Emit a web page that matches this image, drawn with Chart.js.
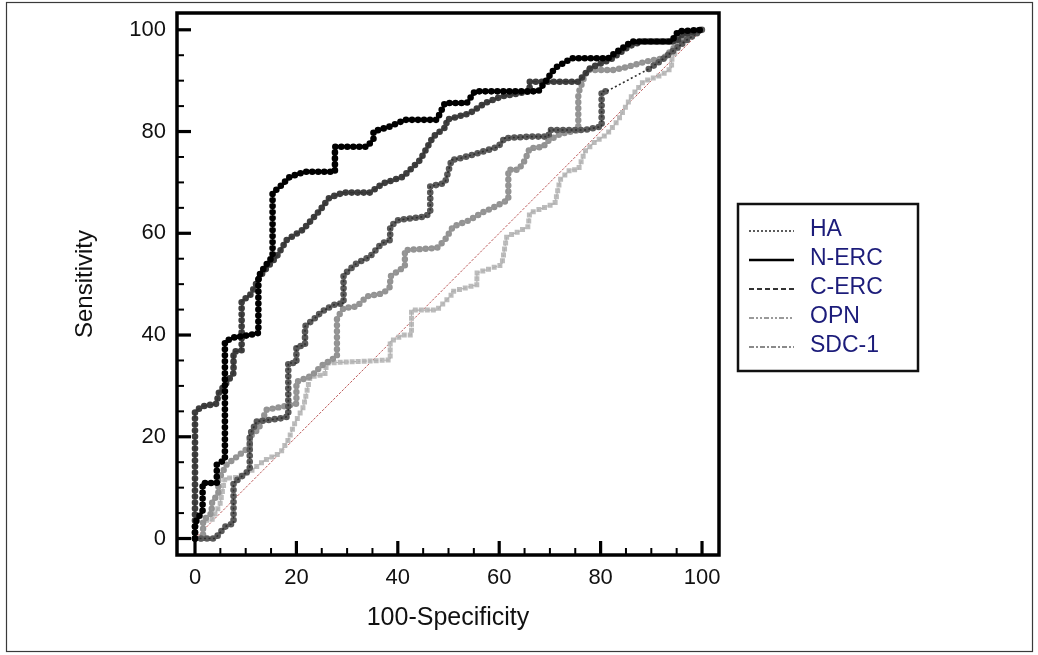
<!DOCTYPE html>
<html><head><meta charset="utf-8">
<script src="https://cdn.jsdelivr.net/npm/chart.js@4/dist/chart.umd.min.js"></script>
<style>html,body{margin:0;padding:0;background:#fff;}canvas{display:block;}</style>
</head><body>
<canvas id="c" width="1038" height="655"></canvas>
<script>
// ---- data ----
const tickValues = [0, 20, 40, 60, 80, 100];
const minorTickValues = [0, 5, 10, 15, 20, 25, 30, 35, 40, 45, 50, 55, 60, 65, 70, 75, 80, 85, 90, 95, 100];
const seriesNames = ['HA', 'N-ERC', 'C-ERC', 'OPN', 'SDC-1'];
const xTitle = '100-Specificity';
const yTitle = 'Sensitivity';

const nercX = [0, 0, 1.5, 1.5, 4.3, 4.3, 5.9, 5.9, 7.5, 10.8, 12.5, 12.5, 13.8, 15.3, 15.3, 16.8, 18.7, 21.7, 27.6, 27.6, 33.9, 35.2, 35.2, 38.5, 41.4, 47.7, 49.3, 53.6, 55.2, 67.7, 69.4, 71, 74.3, 81.5, 82.8, 84.8, 86.1, 94, 95.3, 100];
const nercY = [0, 3, 5.5, 10.9, 10.9, 14.5, 15.5, 38.7, 39.5, 40, 40.4, 51.5, 53.5, 55.4, 67.9, 69.2, 71.1, 72.1, 72.1, 77, 77, 78.5, 80, 81, 82.3, 82.3, 85.6, 85.6, 87.9, 87.9, 90.2, 92.5, 94.4, 94.4, 95.4, 96.7, 97.7, 97.7, 99.7, 100];

const cercX = [0, 0, 1.5, 4.3, 4.6, 6.5, 7.6, 7.6, 9.2, 9.2, 11, 12.8, 14, 16.1, 18.1, 21.3, 24.7, 26.5, 29.3, 34.5, 37.1, 41, 44.4, 47, 49.6, 49.6, 54.2, 57.2, 60.5, 66, 66, 75.6, 78, 82.2, 85.5, 88, 95, 96, 100];
const cercY = [0, 25, 26, 26.5, 28.5, 31, 32.5, 36.7, 37, 46.6, 48, 51.5, 53, 55.4, 58.7, 60.7, 64.6, 67, 68, 68, 69.8, 71.1, 74.4, 79, 81, 82.3, 83.6, 85.6, 86.9, 87.9, 89.8, 89.8, 92.5, 94.3, 96.7, 97.7, 97.7, 99, 100];

const haX = [0, 4, 5.9, 7.6, 7.6, 9.2, 10.8, 10.8, 12.2, 16.8, 18.4, 18.4, 20, 20, 21.7, 21.7, 23.3, 25, 27.3, 29.3, 29.3, 31.9, 34.5, 36.8, 38.5, 38.5, 40.1, 45.4, 46.4, 46.4, 49.3, 50.6, 52.6, 55.6, 59.8, 61.1, 66, 69.7, 70, 76.9, 80.2, 80.2, 81.2, 89.5, 92, 94.5, 97, 100];
const haY = [0, 0, 2.3, 3, 10.9, 12.2, 13.5, 20.4, 23, 23.6, 24, 34.5, 34.5, 37.7, 38, 41.7, 43, 44.6, 45.9, 46.3, 51.8, 54.1, 55.4, 58, 58.7, 61.3, 62.6, 63.3, 64, 69.2, 69.9, 74.4, 74.8, 75.7, 77, 78.7, 79, 79, 80.3, 80.3, 81, 87.9, 87.9, 92.3, 94, 96, 98, 100];

const opnX = [0, 1.6, 1.6, 3.3, 3.3, 4.6, 4.6, 6.2, 9.2, 10.8, 10.8, 12.5, 14.1, 17.1, 20, 20, 23, 25, 28, 28, 29.3, 31.9, 33.9, 37.1, 38.5, 38.5, 41.4, 41.4, 47.7, 49.3, 50.9, 54.2, 56.5, 58.5, 61.8, 61.8, 63.8, 65.1, 66, 68.7, 69.4, 72, 75.6, 75.6, 77.3, 82.5, 84.5, 89.1, 92.4, 94, 96, 98.6, 100];
const opnY = [0, 0, 3.6, 5, 6.9, 9, 11.5, 14.5, 16.8, 18, 20, 21.5, 25.3, 25.9, 26.5, 30.8, 32, 34, 35.8, 43.3, 45.3, 45.6, 47.6, 48.2, 49.5, 51.5, 53.5, 56.7, 57.1, 58.7, 61.3, 62.6, 64, 64.9, 66.6, 72.5, 72.5, 74.4, 76.7, 77, 78, 79.5, 80.3, 87.5, 92.1, 92.1, 92.5, 93.8, 94.4, 96, 98, 99.5, 100];

const sdcX = [0, 1.6, 1.6, 3.3, 4.9, 5.9, 8, 10.8, 13.8, 16.8, 18.4, 19.7, 21.4, 22.7, 25.6, 26, 38.5, 38.5, 41.1, 42.7, 42.7, 47.7, 50.6, 50.6, 55.6, 55.6, 60.5, 61.5, 63.8, 65.7, 66, 67.7, 71, 72, 74, 75.6, 76.9, 78.9, 81.2, 83.5, 84.8, 86.1, 88.4, 92, 94, 94, 96, 98.6, 100];
const sdcY = [0, 0, 3.6, 3.6, 6.6, 11.8, 12, 13.1, 15.4, 16.8, 19.4, 22.7, 25.9, 31.8, 32.2, 34.5, 35.1, 38.7, 40, 40, 44.9, 44.9, 47.9, 48.5, 49.9, 52.2, 53.8, 59.4, 60.3, 61.3, 64, 64.6, 65.9, 70.5, 72.5, 72.5, 76.1, 78, 79.4, 82.3, 84.6, 86.9, 89.8, 91.1, 92.5, 94.1, 98, 100, 100];

const diagX = [0, 100];
const diagY = [0, 100];

// ---- styling ----
const FONT = "'Liberation Sans', Arial, sans-serif";
const legendStyles = [
  { color: '#333333', width: 1.6, dash: [2, 2] },
  { color: '#000000', width: 2.6, dash: [] },
  { color: '#333333', width: 2, dash: [5, 3] },
  { color: '#9a9a9a', width: 2, dash: [5, 2, 2, 2, 2, 2] },
  { color: '#8a8a8a', width: 2, dash: [5, 2, 2, 2] }
];

function pts(xs, ys) { return xs.map((x, i) => ({ x: x, y: ys[i] })); }
function isJump(c) { return Math.abs(c.p1.x - c.p0.x) > 20 && Math.abs(c.p1.y - c.p0.y) > 15; }

function lineDS(label, xs, ys, color, width, dash, order) {
  return { label, data: pts(xs, ys), showLine: true, pointRadius: 0, borderColor: color,
    borderWidth: width, borderDash: dash, fill: false, tension: 0, order };
}
function dotsDS(label, xs, ys, color, cap, width, gap, order, skipJumps) {
  const ds = { label, data: pts(xs, ys), showLine: true, pointRadius: 0, borderColor: color,
    borderWidth: width, borderDash: [0, gap], borderCapStyle: cap, borderJoinStyle: 'round',
    fill: false, tension: 0, order };
  if (skipJumps) ds.segment = { borderColor: c => isJump(c) ? 'rgba(0,0,0,0)' : undefined };
  return ds;
}

const datasets = [
  lineDS('N-ERC', nercX, nercY, '#000000', 1.8, [], 0),
  dotsDS('N-ERC', nercX, nercY, '#000000', 'round', 6.6, 6, 1, false),
  lineDS('C-ERC', cercX, cercY, '#333333', 1.3, [5, 3], 2),
  dotsDS('C-ERC', cercX, cercY, '#3e3e3e', 'round', 6.6, 6, 3, false),
  lineDS('HA', haX, haY, '#303030', 1.6, [2, 2.5], 4),
  dotsDS('HA', haX, haY, '#5a5a5a', 'round', 6.6, 6, 5, true),
  lineDS('OPN', opnX, opnY, '#9a9a9a', 1.2, [5, 2, 2, 2, 2, 2], 6),
  dotsDS('OPN', opnX, opnY, '#939393', 'round', 6.4, 6, 7, false),
  lineDS('SDC-1', sdcX, sdcY, '#b0b0b0', 1.1, [5, 2, 2, 2], 8),
  dotsDS('SDC-1', sdcX, sdcY, '#bcbcbc', 'square', 5, 6, 9, false),
  lineDS('ref', diagX, diagY, 'rgba(176,60,60,0.85)', 1, [2.5, 1.5], 10)
];

const framePlugin = {
  id: 'frame',
  afterDatasetsDraw(chart) {
    const { ctx, chartArea: a, scales: { x, y } } = chart;
    ctx.save();
    ctx.strokeStyle = '#000';
    ctx.lineWidth = 3.5;
    ctx.strokeRect(a.left, a.top, a.right - a.left, a.bottom - a.top);
    minorTickValues.forEach(v => {
      const major = tickValues.includes(v);
      const len = major ? 14 : 7;
      ctx.lineWidth = major ? 3.2 : 2;
      const px = x.getPixelForValue(v);
      ctx.beginPath(); ctx.moveTo(px, a.bottom); ctx.lineTo(px, a.bottom - len); ctx.stroke();
      const py = y.getPixelForValue(v);
      ctx.beginPath(); ctx.moveTo(a.left, py); ctx.lineTo(a.left + len, py); ctx.stroke();
    });
    ctx.restore();
  },
  afterDraw(chart) {
    const ctx = chart.ctx;
    ctx.save();
    ctx.strokeStyle = '#3a3a3a';
    ctx.lineWidth = 1.2;
    ctx.strokeRect(6.5, 2.5, 1026, 649);
    const bx = 738, by = 204, bw = 180, bh = 167;
    ctx.strokeStyle = '#111';
    ctx.lineWidth = 2.5;
    ctx.strokeRect(bx, by, bw, bh);
    ctx.font = '23px ' + FONT;
    ctx.textBaseline = 'middle';
    ctx.textAlign = 'left';
    seriesNames.forEach((name, i) => {
      const cy = 229 + i * 29;
      const st = legendStyles[i];
      ctx.strokeStyle = st.color;
      ctx.lineWidth = st.width;
      ctx.setLineDash(st.dash);
      ctx.beginPath(); ctx.moveTo(749, cy + 2); ctx.lineTo(794, cy + 2); ctx.stroke();
      ctx.setLineDash([]);
      ctx.fillStyle = '#1c1c7a';
      ctx.fillText(name, 810, cy + 1);
    });
    ctx.restore();
  }
};

new Chart(document.getElementById('c'), {
  type: 'scatter',
  data: { datasets },
  options: {
    responsive: false,
    animation: false,
    devicePixelRatio: 1,
    events: [],
    layout: { padding: { left: 0, top: 13, right: 319, bottom: 0 } },
    plugins: { legend: { display: false }, tooltip: { enabled: false } },
    scales: {
      x: {
        type: 'linear', min: -3.55, max: 103.35,
        afterBuildTicks: s => { s.ticks = tickValues.map(v => ({ value: v })); },
        afterFit: s => { s.height = 100; s.paddingLeft = 0; s.paddingRight = 0; },
        grid: { display: false, drawTicks: false },
        border: { display: false },
        ticks: { padding: 10, autoSkip: false, maxRotation: 0, color: '#111', font: { family: FONT, size: 22 } },
        title: { display: true, text: xTitle, color: '#111', font: { family: FONT, size: 25 }, padding: { top: 0, bottom: 22 } }
      },
      y: {
        type: 'linear', min: -3.24, max: 103.3,
        afterBuildTicks: s => { s.ticks = tickValues.map(v => ({ value: v })); },
        afterFit: s => { s.width = 177; s.paddingTop = 0; s.paddingBottom = 0; },
        grid: { display: false, drawTicks: false },
        border: { display: false },
        ticks: { padding: 11, autoSkip: false, color: '#111', font: { family: FONT, size: 22 } },
        title: { display: true, text: yTitle, color: '#111', font: { family: FONT, size: 24 }, padding: { top: 71, bottom: 0 } }
      }
    }
  },
  plugins: [framePlugin]
});
</script>
</body></html>
